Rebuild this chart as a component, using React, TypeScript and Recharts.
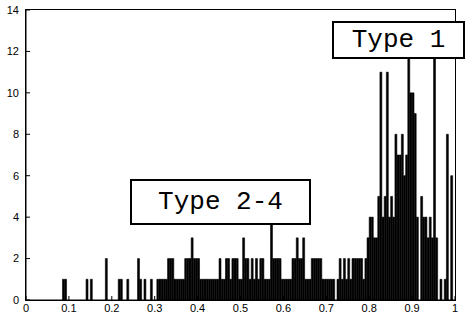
import { BarChart, Bar, XAxis, YAxis } from "recharts"

// histogram of 200 bins over [0, 1]; only non-empty bins are listed
const BIN_WIDTH = 0.005
const BIN_COUNT = 200

const binIndex = [
  17, 18, 28, 30, 37, 43, 44, 47, 52, 53, 55, 58,
  61, 62, 63, 64, 65, 66, 67, 68, 69, 70, 71, 72, 73, 74, 75, 76, 77, 78, 79, 80,
  81, 82, 83, 84, 85, 86, 87, 88, 89, 90, 91, 92, 93, 94, 95, 96, 97, 98, 99, 100,
  101, 102, 103, 104, 105, 106, 107, 108, 109, 110, 111, 112, 113, 114, 115, 116,
  117, 118, 119, 120, 121, 122, 123, 124, 125, 126, 127, 128, 129, 130, 131, 132,
  133, 134, 135, 136, 137, 138, 139, 140, 141, 142, 143, 145, 146, 147, 148, 149,
  150, 151, 152, 153, 154, 155, 156, 157, 158, 159, 160, 161, 162, 163, 164, 165,
  166, 167, 168, 169, 170, 171, 172, 173, 174, 175, 176, 177, 178, 179, 180, 181,
  182, 184, 185, 186, 187, 188, 189, 190, 191, 193, 195, 196, 198,
]

const binCount = [
  1, 1, 1, 1, 2, 1, 1, 1, 2, 1, 1, 1,
  1, 1, 1, 1, 1, 2, 2, 2, 1, 1, 1, 1, 1, 2, 2, 2, 3, 2, 2, 2,
  1, 1, 1, 1, 1, 1, 1, 1, 1, 2, 1, 1, 2, 2, 1, 2, 2, 2, 1, 1,
  3, 2, 2, 1, 2, 1, 2, 1, 2, 2, 1, 1, 1, 4, 2, 2,
  2, 2, 1, 1, 1, 1, 1, 2, 2, 3, 2, 2, 3, 1, 1, 1,
  2, 2, 2, 2, 2, 1, 1, 1, 1, 1, 1, 1, 2, 1, 2, 1,
  2, 1, 2, 2, 2, 2, 2, 1, 2, 3, 4, 4, 3, 3, 5, 11,
  4, 5, 11, 4, 5, 4, 8, 7, 7, 8, 6, 7, 12, 10, 10, 9,
  4, 5, 4, 4, 3, 4, 3, 12, 3, 1, 1, 8, 6,
]

const xTicks = [0, 0.1, 0.2, 0.3, 0.4, 0.5, 0.6, 0.7, 0.8, 0.9, 1]
const yTicks = [0, 2, 4, 6, 8, 10, 12, 14]

const data = Array.from({ length: BIN_COUNT }, (_, i) => {
  const k = binIndex.indexOf(i)
  return { x: i * BIN_WIDTH + BIN_WIDTH / 2, count: k >= 0 ? binCount[k] : 0 }
})

const tickStyle = { fontSize: 11, fill: "#000", fontFamily: "Liberation Sans, Arial, sans-serif" }
const black = { stroke: "#000", strokeWidth: 1 }
const mono = "'Liberation Mono', 'Courier New', monospace"

function LabelBox({ text, left, top, width, height }: { text: string; left: number; top: number; width: number; height: number }) {
  return (
    <div
      style={{
        position: "absolute",
        left,
        top,
        width,
        height,
        boxSizing: "border-box",
        border: "2px solid #000",
        background: "#fff",
        display: "flex",
        alignItems: "center",
        justifyContent: "center",
        fontFamily: mono,
        fontSize: 26,
        color: "#000",
        whiteSpace: "pre",
      }}
    >
      {text}
    </div>
  )
}

export default function App() {
  return (
    <div style={{ position: "absolute", left: 0, top: 0, width: 469, height: 320, background: "#fff" }}>
      <BarChart
        width={469}
        height={320}
        data={data}
        margin={{ top: 10, right: 14, left: 6, bottom: 2 }}
        barCategoryGap={0}
        barGap={0}
      >
        <XAxis
          dataKey="x"
          type="number"
          domain={[0, 1]}
          ticks={xTicks}
          height={18}
          tick={tickStyle}
          tickSize={-4}
          tickMargin={8}
          axisLine={black}
          tickLine={black}
        />
        <YAxis
          type="number"
          domain={[0, 14]}
          ticks={yTicks}
          width={20}
          tick={tickStyle}
          tickSize={-4}
          tickMargin={11}
          axisLine={black}
          tickLine={black}
        />
        <Bar
          dataKey="count"
          fill="#000"
          stroke="#000"
          strokeWidth={0.6}
          barSize={3}
          isAnimationActive={false}
        />
      </BarChart>
      {/* plot frame */}
      <div
        style={{
          position: "absolute",
          left: 25,
          top: 9,
          width: 431,
          height: 292,
          border: "1.5px solid #000",
          boxSizing: "border-box",
          pointerEvents: "none",
        }}
      />
      <LabelBox text="Type 2-4" left={130} top={179} width={181} height={46} />
      <LabelBox text="Type 1" left={332} top={21} width={133} height={38} />
    </div>
  )
}
